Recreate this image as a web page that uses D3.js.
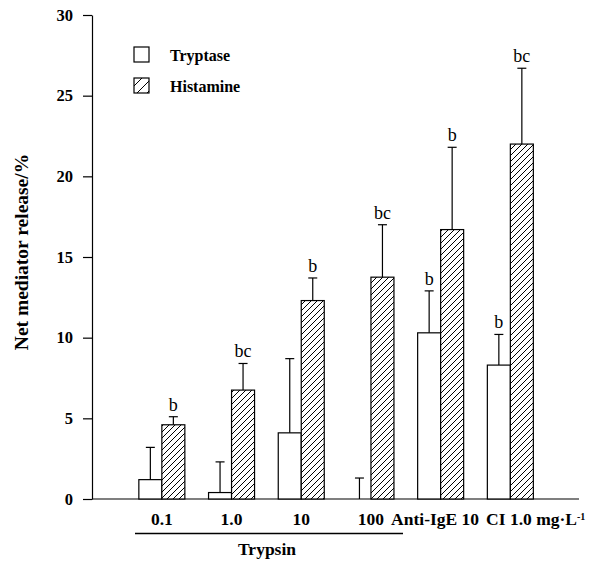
<!DOCTYPE html>
<html>
<head>
<meta charset="utf-8">
<script src="https://cdn.jsdelivr.net/npm/d3@7"></script>
<style>
  body { margin: 0; background: #fff; }
  svg { display: block; }
</style>
</head>
<body>
<div id="chart"></div>
<script>
let w = 607;
let h = 561;

// data
let categories = ["0.1", "1.0", "10", "100", "Anti-IgE 10", "CI 1.0 mg·L"];
let tryptase = [1.2, 0.4, 4.1, 0, 10.3, 8.3];
let tryptaseErr = [2.0, 1.9, 4.6, 1.3, 2.6, 1.9];
let tryptaseSig = ["", "", "", "", "b", "b"];
let histamine = [4.6, 6.75, 12.3, 13.75, 16.7, 22.0];
let histamineErr = [0.5, 1.65, 1.4, 3.25, 5.1, 4.7];
let histamineSig = ["b", "bc", "b", "bc", "b", "bc"];
let yTicks = [0, 5, 10, 15, 20, 25, 30];
let series = ["Tryptase", "Histamine"];

let font = "'Liberation Serif', 'Times New Roman', serif";

let svg = d3.select("#chart").append("svg")
    .attr("width", w)
    .attr("height", h)
    .style("background-color", "white");

let defs = svg.append("defs");
function hatch(id, size) {
    let p = defs.append("pattern")
        .attr("id", id)
        .attr("patternUnits", "userSpaceOnUse")
        .attr("width", size)
        .attr("height", size);
    p.append("rect").attr("width", size).attr("height", size).attr("fill", "white");
    p.append("path")
        .attr("d", "M0," + size + " L" + size + ",0 M" + (-size / 2) + "," + (size / 2) + " L" + (size / 2) + "," + (-size / 2) +
            " M" + (size / 2) + "," + (size * 1.5) + " L" + (size * 1.5) + "," + (size / 2))
        .attr("stroke", "black")
        .attr("stroke-width", 1);
}
hatch("hatch", 6);
hatch("hatchBig", 10);

let y = d3.scaleLinear().domain([0, 30]).range([499, 15]);
let x = d3.scaleBand().domain(categories).range([127, 545.2])
    .paddingInner(0.34).paddingOuter(0.17);
let sub = d3.scaleBand().domain(series).range([0, x.bandwidth()]);

// y axis
let yAxis = svg.append("g")
    .attr("transform", "translate(92,0)")
    .call(d3.axisLeft(y).tickValues(yTicks).tickSize(9).tickSizeOuter(0).tickPadding(10));
yAxis.selectAll("text")
    .attr("font-family", font)
    .attr("font-weight", "bold")
    .attr("font-size", 16.5)
    .attr("fill", "black");
yAxis.selectAll("line, path").attr("stroke", "black").attr("stroke-width", 1.2);

// baseline
svg.append("line")
    .attr("x1", 92).attr("x2", 579)
    .attr("y1", y(0)).attr("y2", y(0))
    .attr("stroke", "black").attr("stroke-width", 1.2);

// x labels
let xAxis = svg.append("g")
    .attr("transform", "translate(0," + y(0) + ")")
    .call(d3.axisBottom(x).tickSize(0).tickPadding(14));
xAxis.select(".domain").remove();
xAxis.selectAll("text")
    .attr("font-family", font)
    .attr("font-weight", "bold")
    .attr("font-size", 17.5)
    .attr("fill", "black");
xAxis.selectAll("text").filter(d => d == "CI 1.0 mg·L")
    .append("tspan")
    .attr("font-size", 10)
    .attr("dy", "-0.55em")
    .text("-1");

// the last labels run on from "100" as one line
let spaceW = 7;
let prevEnd = null;
xAxis.selectAll("text").each(function(d) {
    let t = d3.select(this);
    let len = this.getComputedTextLength();
    let cxTick = x(d) + x.bandwidth() / 2;
    if (d == "100") {
        prevEnd = cxTick + len / 2;
    } else if (prevEnd != null) {
        let start = prevEnd + spaceW;
        t.attr("dx", start + len / 2 - cxTick);
        prevEnd = start + len;
    }
});

// Trypsin bracket
svg.append("line")
    .attr("x1", 135).attr("x2", 403)
    .attr("y1", 533.5).attr("y2", 533.5)
    .attr("stroke", "black").attr("stroke-width", 1.5);
svg.append("text")
    .attr("x", 267).attr("y", 555)
    .attr("text-anchor", "middle")
    .attr("font-family", font)
    .attr("font-weight", "bold")
    .attr("font-size", 17.5)
    .text("Trypsin");

// y title
svg.append("text")
    .attr("transform", "translate(28,252) rotate(-90)")
    .attr("text-anchor", "middle")
    .attr("font-family", font)
    .attr("font-weight", "bold")
    .attr("font-size", 19.5)
    .text("Net mediator release/%");

// bars
let rows = [];
categories.forEach(function(c, i) {
    rows.push({cat: c, s: "Tryptase", v: tryptase[i], e: tryptaseErr[i], sig: tryptaseSig[i]});
    rows.push({cat: c, s: "Histamine", v: histamine[i], e: histamineErr[i], sig: histamineSig[i]});
});

let bars = svg.append("g");
bars.selectAll("rect")
    .data(rows)
    .join("rect")
    .attr("x", d => x(d.cat) + sub(d.s))
    .attr("y", d => y(d.v))
    .attr("width", sub.bandwidth())
    .attr("height", d => y(0) - y(d.v))
    .attr("fill", d => d.s == "Histamine" ? "url(#hatch)" : "white")
    .attr("stroke", "black")
    .attr("stroke-width", 1.2);

let cx = d => x(d.cat) + sub(d.s) + sub.bandwidth() / 2;
let err = svg.append("g").attr("stroke", "black").attr("stroke-width", 1.2);
err.selectAll(".stem")
    .data(rows)
    .join("line")
    .attr("class", "stem")
    .attr("x1", cx).attr("x2", cx)
    .attr("y1", d => y(d.v)).attr("y2", d => y(d.v + d.e));
err.selectAll(".cap")
    .data(rows)
    .join("line")
    .attr("class", "cap")
    .attr("x1", d => cx(d) - 4.5).attr("x2", d => cx(d) + 4.5)
    .attr("y1", d => y(d.v + d.e)).attr("y2", d => y(d.v + d.e));

svg.append("g").selectAll("text")
    .data(rows.filter(d => d.sig != ""))
    .join("text")
    .attr("x", cx)
    .attr("y", d => y(d.v + d.e) - 6)
    .attr("text-anchor", "middle")
    .attr("font-family", font)
    .attr("font-size", 18)
    .text(d => d.sig);

// legend
let legend = svg.append("g");
series.forEach(function(s, i) {
    legend.append("rect")
        .attr("x", 134).attr("y", 47 + i * 31)
        .attr("width", 15).attr("height", 15)
        .attr("fill", s == "Histamine" ? "url(#hatchBig)" : "white")
        .attr("stroke", "black")
        .attr("stroke-width", 1.2);
    legend.append("text")
        .attr("x", 170).attr("y", 61 + i * 31)
        .attr("font-family", font)
        .attr("font-weight", "bold")
        .attr("font-size", 16)
        .text(s);
});
</script>
</body>
</html>
